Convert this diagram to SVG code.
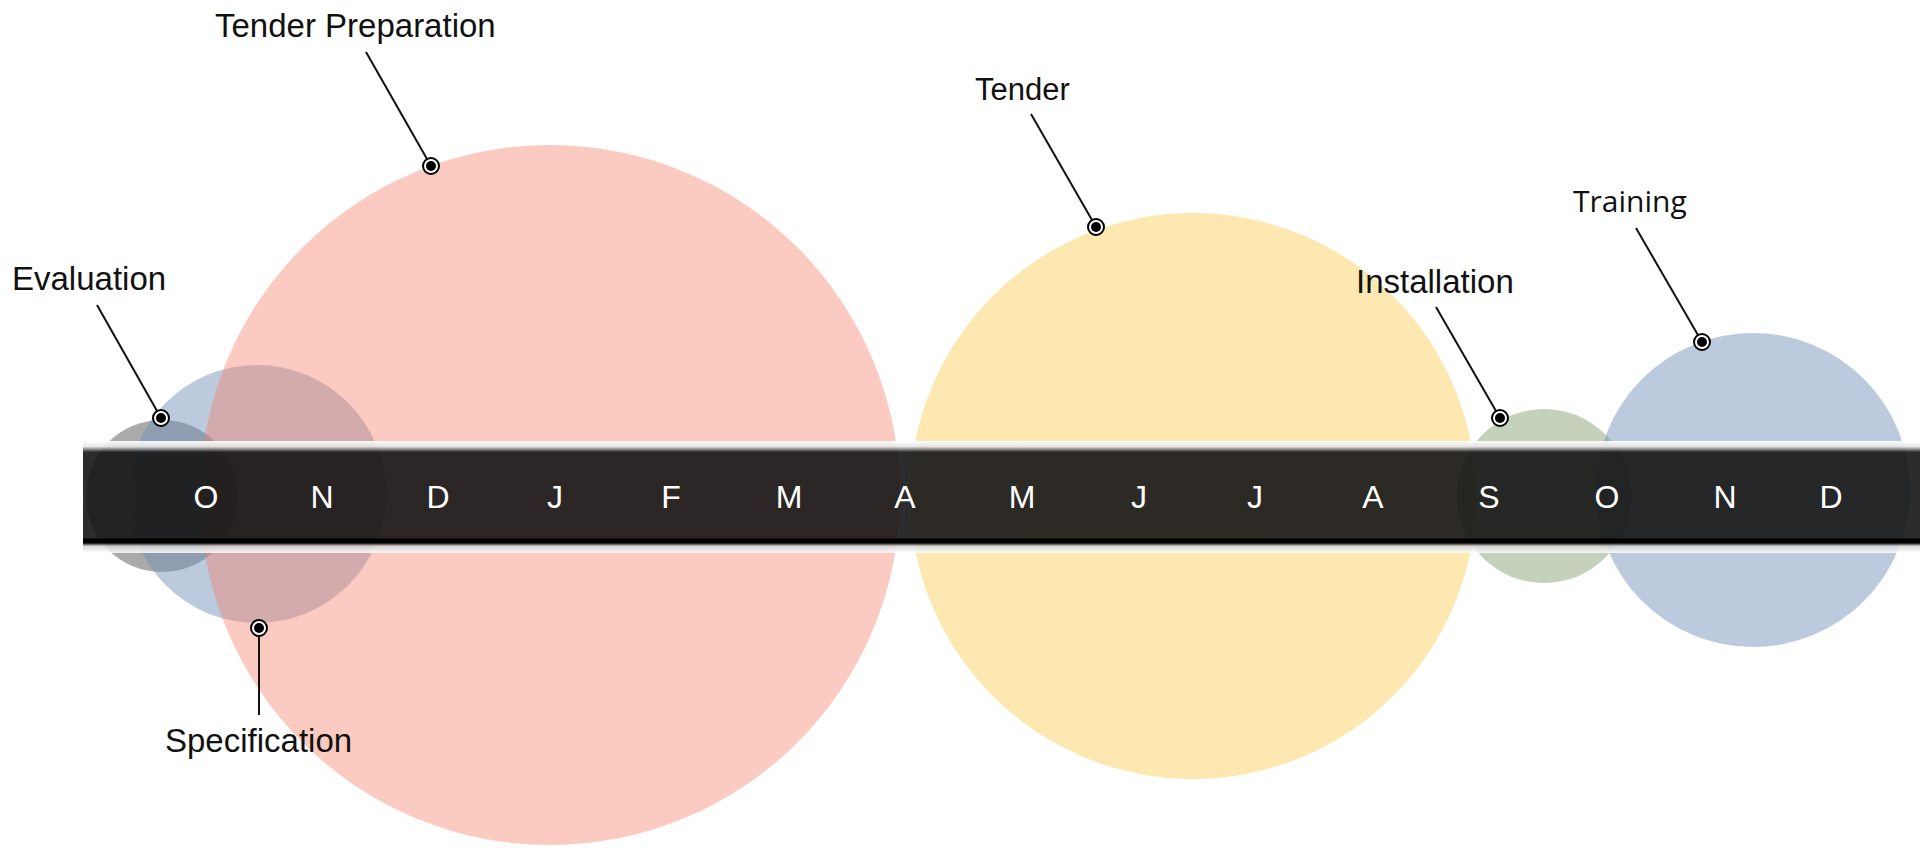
<svg xmlns="http://www.w3.org/2000/svg" width="1920" height="848" viewBox="0 0 1920 848">
<defs>
<style>
.lbl{font-family:"Liberation Sans",Arial,sans-serif;font-size:33px;fill:#111;}
.mon{font-family:"Liberation Sans",Arial,sans-serif;font-size:32px;fill:#fff;text-anchor:middle;}
.lead{stroke:#111;stroke-width:2;fill:none;}
.ring{fill:#fff;stroke:#000;stroke-width:2;}
.dot{fill:#000;}
</style>
<linearGradient id="barGrad" x1="0" y1="441" x2="0" y2="553" gradientUnits="userSpaceOnUse">
<stop offset="0" stop-color="#ffffff" stop-opacity="0.92"/>
<stop offset="0.05" stop-color="#e4e4e4" stop-opacity="0.92"/>
<stop offset="0.1" stop-color="#121212" stop-opacity="0.89"/>
<stop offset="0.86" stop-color="#121212" stop-opacity="0.89"/>
<stop offset="0.88" stop-color="#000000" stop-opacity="1"/>
<stop offset="0.91" stop-color="#000000" stop-opacity="1"/>
<stop offset="0.94" stop-color="#d4d4d4" stop-opacity="0.85"/>
<stop offset="1" stop-color="#ffffff" stop-opacity="0.85"/>
</linearGradient>
</defs>
<rect width="1920" height="848" fill="#ffffff"/>
<g id="evaluation"><circle cx="162" cy="496" r="76" fill="#555555" fill-opacity="0.5"/></g>
<g id="specification"><circle cx="257" cy="494" r="129" fill="#7391b8" fill-opacity="0.48"/></g>
<g id="tender-preparation"><circle cx="550" cy="495" r="350" fill="#f57d64" fill-opacity="0.4"/></g>
<g id="tender"><circle cx="1193" cy="496" r="283" fill="#fbd163" fill-opacity="0.5"/></g>
<g id="installation"><circle cx="1544" cy="496" r="87" fill="#8aa378" fill-opacity="0.5"/></g>
<g id="training"><circle cx="1753" cy="490" r="157" fill="#7391b8" fill-opacity="0.48"/></g>
<g id="timeline">
<rect x="83" y="441" width="1837" height="112" fill="url(#barGrad)"/>
<text class="mon" x="206" y="508">O</text>
<text class="mon" x="322" y="508">N</text>
<text class="mon" x="438" y="508">D</text>
<text class="mon" x="555" y="508">J</text>
<text class="mon" x="671" y="508">F</text>
<text class="mon" x="789" y="508">M</text>
<text class="mon" x="905" y="508">A</text>
<text class="mon" x="1022" y="508">M</text>
<text class="mon" x="1139" y="508">J</text>
<text class="mon" x="1255" y="508">J</text>
<text class="mon" x="1373" y="508">A</text>
<text class="mon" x="1489" y="508">S</text>
<text class="mon" x="1607" y="508">O</text>
<text class="mon" x="1725" y="508">N</text>
<text class="mon" x="1831" y="508">D</text>
</g>
<g id="connectors">
<line class="lead" x1="366" y1="52" x2="431" y2="166"/>
<line class="lead" x1="1031" y1="114" x2="1096" y2="227"/>
<line class="lead" x1="97" y1="305" x2="161" y2="418"/>
<line class="lead" x1="259" y1="628" x2="259" y2="715"/>
<line class="lead" x1="1436" y1="307" x2="1500" y2="418"/>
<line class="lead" x1="1636" y1="228" x2="1702" y2="342"/>
<circle class="ring" cx="431" cy="166" r="8"/><circle class="dot" cx="431" cy="166" r="5"/>
<circle class="ring" cx="1096" cy="227" r="8"/><circle class="dot" cx="1096" cy="227" r="5"/>
<circle class="ring" cx="161" cy="418" r="8"/><circle class="dot" cx="161" cy="418" r="5"/>
<circle class="ring" cx="259" cy="628" r="8"/><circle class="dot" cx="259" cy="628" r="5"/>
<circle class="ring" cx="1500" cy="418" r="8"/><circle class="dot" cx="1500" cy="418" r="5"/>
<circle class="ring" cx="1702" cy="342" r="8"/><circle class="dot" cx="1702" cy="342" r="5"/>
</g>
<g id="labels">
<text class="lbl" x="215" y="37">Tender Preparation</text>
<text class="lbl" x="975" y="100" style="font-size:31px">Tender</text>
<text class="lbl" x="12" y="290">Evaluation</text>
<text class="lbl" x="165" y="752">Specification</text>
<text class="lbl" x="1356" y="293">Installation</text>
<text class="lbl" x="1573" y="212" style="font-family:'Open Sans','Liberation Sans',sans-serif;font-size:30px">Training</text>
</g>
</svg>
